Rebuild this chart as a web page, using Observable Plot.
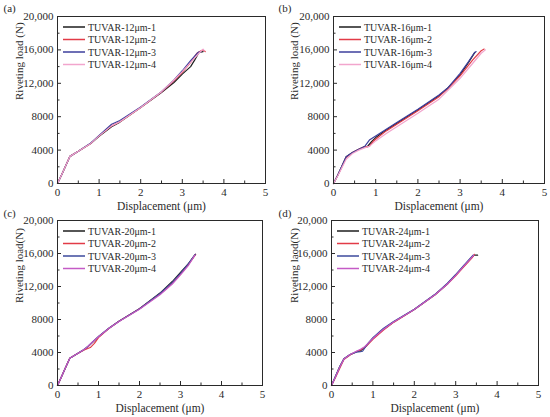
<!DOCTYPE html>
<html><head><meta charset="utf-8">
<script src="https://cdn.jsdelivr.net/npm/d3@7"></script>
<script src="https://cdn.jsdelivr.net/npm/@observablehq/plot@0.6"></script>
<style>
body{margin:0;background:#fff}
#wrap{position:relative;width:550px;height:417px;overflow:hidden;background:#fff}
.panel{position:absolute;overflow:visible}
</style>
</head><body><div id="wrap"></div>
<script>
// ---- tick labels ----
const xTicks = [0, 1, 2, 3, 4, 5];
const xMinor = [0.5, 1.5, 2.5, 3.5, 4.5];
const yTicks = [0, 4000, 8000, 12000, 16000, 20000];
const yMinor = [2000, 6000, 10000, 14000, 18000];
const panelLabels = ["(a)", "(b)", "(c)", "(d)"];
const xTitle = "Displacement (\u03bcm)";
const yTitles = ["Riveting load (N)", "Riveting load (N)", "Riveting load(N)", "Riveting laod(N)"];
const thicknesses = ["12", "16", "20", "24"];

// ---- series (displacement µm, load N) ----
const a1 = [[0,0],[0.1,1050],[0.2,2150],[0.3,3250],[0.5,3850],[0.8,4800],[1,5650],[1.3,6800],[1.5,7350],[2,9100],[2.5,10900],[2.8,12100],[3.0,13100],[3.2,14000],[3.3,14800],[3.4,15700],[3.5,15800]];
const a2 = [[0,0],[0.1,1050],[0.2,2150],[0.3,3250],[0.5,3850],[0.8,4800],[1,5700],[1.3,6900],[1.5,7400],[2,9100],[2.5,10950],[2.8,12300],[3.0,13300],[3.2,14500],[3.35,15600],[3.45,15900],[3.5,16000],[3.55,15800]];
const a3 = [[0,0],[0.1,1050],[0.2,2150],[0.3,3250],[0.5,3850],[0.8,4850],[1,5750],[1.3,7100],[1.5,7550],[2,9150],[2.5,11000],[2.8,12400],[3.0,13500],[3.2,14700],[3.38,15700],[3.45,15800]];
const a4 = [[0,0],[0.1,1050],[0.2,2150],[0.3,3250],[0.5,3850],[0.8,4800],[1,5700],[1.3,6900],[1.5,7400],[2,9100],[2.5,11000],[2.8,12400],[3.0,13400],[3.2,14500],[3.4,15600],[3.5,16100],[3.53,15900]];

const b1 = [[0,0],[0.1,1000],[0.2,2100],[0.3,3200],[0.45,3700],[0.6,4100],[0.7,4350],[0.8,4400],[0.9,5000],[1,5500],[1.25,6400],[1.5,7200],[2,8800],[2.5,10500],[2.7,11400],[3,13000],[3.2,14500],[3.35,15700]];
const b2 = [[0,0],[0.1,950],[0.2,2000],[0.3,3100],[0.45,3700],[0.6,4100],[0.7,4350],[0.85,4450],[0.95,5100],[1.05,5500],[1.25,6300],[1.5,7100],[2,8700],[2.5,10400],[2.7,11300],[3,12900],[3.3,14800],[3.5,15900],[3.57,16100]];
const b3 = [[0,0],[0.1,1000],[0.2,2100],[0.3,3200],[0.45,3700],[0.6,4100],[0.7,4350],[0.75,4500],[0.85,5200],[1,5700],[1.25,6500],[1.5,7300],[2,8900],[2.5,10600],[2.7,11400],[3,13200],[3.2,14600],[3.33,15600],[3.38,15800]];
const b4 = [[0,0],[0.1,900],[0.2,1900],[0.3,2900],[0.45,3600],[0.6,4000],[0.75,4300],[0.85,4450],[1,5100],[1.25,6000],[1.5,6800],[2,8400],[2.5,10100],[2.7,11100],[3,12600],[3.3,14400],[3.5,15600],[3.6,16000]];

const c1 = [[0,0],[0.1,1100],[0.2,2200],[0.3,3300],[0.45,3750],[0.6,4200],[0.7,4500],[0.85,5200],[1,5900],[1.25,6900],[1.5,7800],[2,9300],[2.5,11200],[2.8,12600],[3,13700],[3.2,14800],[3.36,15900]];
const c2 = [[0,0],[0.1,1100],[0.2,2200],[0.3,3300],[0.45,3750],[0.65,4300],[0.8,4600],[0.9,5100],[1,5800],[1.25,6900],[1.5,7800],[2,9300],[2.5,11100],[2.8,12400],[3,13500],[3.2,14700],[3.37,15900]];
const c3 = [[0,0],[0.1,1100],[0.2,2200],[0.3,3300],[0.45,3750],[0.6,4200],[0.75,4800],[0.9,5500],[1,5950],[1.25,6950],[1.5,7800],[2,9300],[2.5,11150],[2.8,12500],[3,13600],[3.2,14800],[3.36,15900]];
const c4 = [[0,0],[0.1,1100],[0.2,2200],[0.3,3300],[0.45,3750],[0.6,4200],[0.7,4550],[0.85,5250],[1,5900],[1.25,6900],[1.5,7750],[2,9250],[2.5,11000],[2.8,12300],[3,13400],[3.2,14600],[3.35,15800]];

const d1 = [[0,0],[0.1,1150],[0.2,2300],[0.3,3250],[0.45,3750],[0.6,4100],[0.7,4200],[0.8,4600],[0.9,5200],[1,5700],[1.25,6800],[1.5,7700],[2,9200],[2.5,11000],[2.8,12300],[3,13400],[3.2,14500],[3.4,15600],[3.45,15800],[3.53,15800]];
const d2 = [[0,0],[0.1,1000],[0.2,2100],[0.3,3150],[0.45,3700],[0.6,4100],[0.7,4300],[0.85,4800],[1,5600],[1.25,6700],[1.5,7650],[2,9200],[2.5,11000],[2.8,12300],[3,13300],[3.2,14400],[3.4,15500],[3.45,15900]];
const d3s = [[0,0],[0.1,1150],[0.2,2300],[0.3,3250],[0.45,3750],[0.6,4050],[0.7,4100],[0.75,4150],[0.85,4900],[1,5800],[1.25,6900],[1.5,7750],[2,9250],[2.5,11050],[2.8,12400],[3,13450],[3.2,14600],[3.42,15800]];
const d4 = [[0,0],[0.1,1100],[0.2,2250],[0.3,3200],[0.45,3750],[0.6,4150],[0.7,4400],[0.8,4700],[0.9,5200],[1,5700],[1.25,6800],[1.5,7700],[2,9200],[2.5,11000],[2.8,12300],[3,13350],[3.2,14500],[3.4,15600],[3.44,15800]];

const colorsAB = ["#1e1e1e", "#e23b47", "#3d3f9c", "#f2a5cd"];
const colorsCD = ["#1e1e1e", "#e23b47", "#3d4a9c", "#c45bc6"];

const panels = [
  {series:[a1,a2,a3,a4], left:0,   top:0,   w:275, h:205, ml:57, mr:10, mt:16, mb:22, colors:colorsAB},
  {series:[b1,b2,b3,b4], left:275, top:0,   w:275, h:205, ml:58, mr:6,  mt:16, mb:22, colors:colorsAB},
  {series:[c1,c2,c3,c4], left:0,   top:205, w:275, h:212, ml:57, mr:13, mt:15, mb:32, colors:colorsCD},
  {series:[d1,d2,d3s,d4],left:275, top:205, w:275, h:212, ml:56, mr:12, mt:15, mb:32, colors:colorsCD}
];

const fontFamily = "Liberation Serif";
const ink = "#2a2a2a";
const wrap = document.getElementById("wrap");

panels.forEach((p, k) => {
  const fw = p.w - p.ml - p.mr, fh = p.h - p.mt - p.mb;
  const names = [1,2,3,4].map(i => `TUVAR-${thicknesses[k]}\u03bcm-${i}`);
  const lines = p.series.map((s, i) =>
    Plot.line(s, {x: d => d[0], y: d => d[1], stroke: p.colors[i], strokeWidth: 1.2, curve: "linear"}));
  const svg = Plot.plot({
    width: p.w, height: p.h,
    marginLeft: p.ml, marginRight: p.mr, marginTop: p.mt, marginBottom: p.mb,
    style: {fontFamily, fontSize: "11px", background: "transparent", overflow: "visible", color: ink},
    x: {domain: [0, 5]},
    y: {domain: [0, 20000]},
    marks: [
      Plot.ruleX(xTicks, {insetTop: fh - 4, stroke: ink}),
      Plot.ruleX(xMinor, {insetTop: fh - 2.5, stroke: ink}),
      Plot.ruleY(yTicks, {insetRight: fw - 4, stroke: ink}),
      Plot.ruleY(yMinor, {insetRight: fw - 2.5, stroke: ink}),
      Plot.axisX({ticks: xTicks, tickSize: 0, tickPadding: 5, label: null, fill: ink,
        tickFormat: d => String(d)}),
      Plot.axisY({ticks: yTicks, tickSize: 0, tickPadding: 4, label: null, fill: ink,
        tickFormat: d => d >= 10000 ? d3.format(",")(d) : String(d)}),
      ...lines,
      Plot.frame({stroke: ink, strokeWidth: 1}),
      Plot.text([panelLabels[k]], {text: d => d, frameAnchor: "top-left", dx: 3 - p.ml, dy: 8 - p.mt,
        textAnchor: "start", lineAnchor: "middle", fontSize: 11, fill: ink}),
      Plot.text([xTitle], {text: d => d, frameAnchor: "bottom", dy: 23,
        lineAnchor: "middle", fontSize: 11.5, fill: ink}),
      Plot.text([yTitles[k]], {text: d => d, frameAnchor: "left", dx: 19 - p.ml, rotate: -90,
        lineAnchor: "middle", fontSize: 11, fill: ink})
    ]
  });
  // legend
  const g = d3.select(svg).append("g").attr("font-family", fontFamily).attr("font-size", 10)
    .attr("text-anchor", "start");
  names.forEach((n, i) => {
    const y = p.mt + 11 + i * 12.5;
    g.append("line").attr("x1", p.ml + 6).attr("x2", p.ml + 28).attr("y1", y).attr("y2", y)
      .attr("stroke", p.colors[i]).attr("stroke-width", 1.5);
    g.append("text").attr("x", p.ml + 31).attr("y", y).attr("dy", "0.35em").attr("fill", ink).text(n);
  });
  svg.classList.add("panel");
  svg.style.left = p.left + "px";
  svg.style.top = p.top + "px";
  wrap.appendChild(svg);
});
</script></body></html>
